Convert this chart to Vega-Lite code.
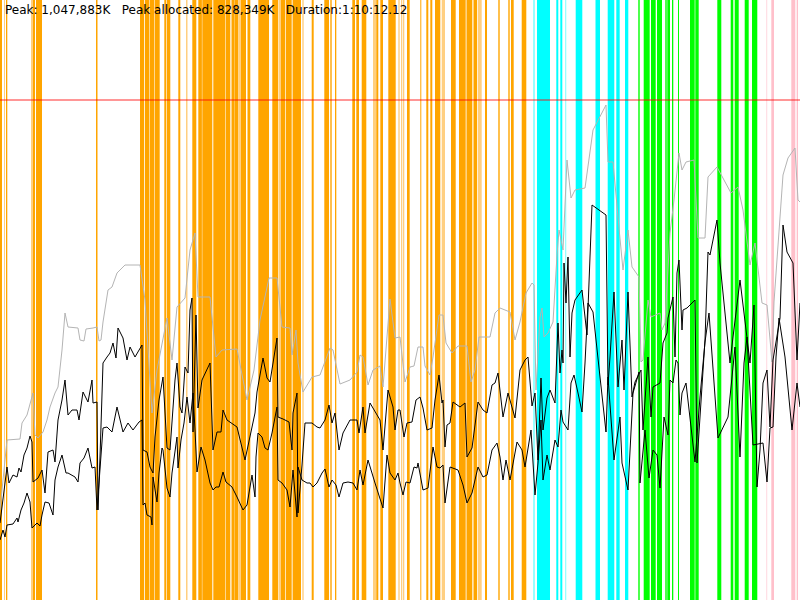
{
  "$schema": "https://vega.github.io/schema/vega-lite/v6.json",
  "width": 800,
  "height": 600,
  "autosize": {"type": "none"},
  "padding": 0,
  "background": "white",
  "config": {"view": {"stroke": null}},
  "title": {
    "text": "Peak: 1,047,883K\u00a0\u00a0\u00a0Peak allocated: 828,349K\u00a0\u00a0\u00a0Duration:1:10:12.12",
    "anchor": "start",
    "frame": "group",
    "offset": -17,
    "dx": 5,
    "font": "DejaVu Sans",
    "fontSize": 12,
    "fontWeight": "normal",
    "color": "#000000"
  },
  "datasets": {
    "bands": [
      {"start": 0, "end": 2, "kind": "o"},
      {"start": 4, "end": 5, "kind": "lo"},
      {"start": 6, "end": 7.3, "kind": "o"},
      {"start": 31, "end": 33, "kind": "lo"},
      {"start": 33, "end": 35, "kind": "o"},
      {"start": 36, "end": 42, "kind": "o"},
      {"start": 96, "end": 97.5, "kind": "o"},
      {"start": 140, "end": 144.2, "kind": "o"},
      {"start": 145, "end": 149.2, "kind": "o"},
      {"start": 149.7, "end": 154.2, "kind": "o"},
      {"start": 154.7, "end": 159.7, "kind": "o"},
      {"start": 164.3, "end": 166.2, "kind": "o"},
      {"start": 166.8, "end": 170.3, "kind": "o"},
      {"start": 178.3, "end": 180.3, "kind": "o"},
      {"start": 186, "end": 187.5, "kind": "lo"},
      {"start": 192.3, "end": 196.3, "kind": "o"},
      {"start": 198.3, "end": 201.9, "kind": "o"},
      {"start": 202.3, "end": 212.3, "kind": "o"},
      {"start": 213.3, "end": 225.2, "kind": "o"},
      {"start": 225.7, "end": 230.3, "kind": "o"},
      {"start": 231.5, "end": 234, "kind": "o"},
      {"start": 234.3, "end": 238.3, "kind": "o"},
      {"start": 238.3, "end": 241, "kind": "lo"},
      {"start": 241, "end": 246, "kind": "o"},
      {"start": 247.5, "end": 250.3, "kind": "o"},
      {"start": 258.3, "end": 269, "kind": "o"},
      {"start": 272.3, "end": 278.3, "kind": "o"},
      {"start": 279, "end": 281, "kind": "lo"},
      {"start": 281, "end": 285, "kind": "o"},
      {"start": 285.7, "end": 291.7, "kind": "o"},
      {"start": 292.6, "end": 301, "kind": "o"},
      {"start": 302.3, "end": 303.7, "kind": "lo"},
      {"start": 311.7, "end": 313.7, "kind": "o"},
      {"start": 324.3, "end": 329, "kind": "o"},
      {"start": 330.3, "end": 331.7, "kind": "o"},
      {"start": 335, "end": 336.3, "kind": "o"},
      {"start": 352.3, "end": 355, "kind": "o"},
      {"start": 356.3, "end": 359, "kind": "o"},
      {"start": 361.7, "end": 366.3, "kind": "o"},
      {"start": 373, "end": 376.3, "kind": "lo"},
      {"start": 376.3, "end": 378.3, "kind": "o"},
      {"start": 380.3, "end": 383, "kind": "o"},
      {"start": 388.3, "end": 395.7, "kind": "o"},
      {"start": 398.3, "end": 399.7, "kind": "lo"},
      {"start": 401, "end": 402.3, "kind": "lo"},
      {"start": 403, "end": 404.3, "kind": "lo"},
      {"start": 407, "end": 409.7, "kind": "o"},
      {"start": 420.3, "end": 421.3, "kind": "o"},
      {"start": 426.3, "end": 428.3, "kind": "o"},
      {"start": 430.3, "end": 432.3, "kind": "o"},
      {"start": 435, "end": 440.3, "kind": "o"},
      {"start": 441.7, "end": 445, "kind": "lo"},
      {"start": 451, "end": 455.7, "kind": "o"},
      {"start": 459, "end": 465.7, "kind": "o"},
      {"start": 466.5, "end": 472.3, "kind": "o"},
      {"start": 473.5, "end": 477, "kind": "o"},
      {"start": 477.7, "end": 481.7, "kind": "lo"},
      {"start": 485, "end": 487, "kind": "o"},
      {"start": 498.3, "end": 499.7, "kind": "o"},
      {"start": 508.3, "end": 509.7, "kind": "o"},
      {"start": 511, "end": 513.7, "kind": "o"},
      {"start": 521.7, "end": 526.3, "kind": "o"},
      {"start": 533, "end": 535, "kind": "lc"},
      {"start": 537, "end": 550, "kind": "c"},
      {"start": 556.3, "end": 558.3, "kind": "c"},
      {"start": 560.3, "end": 562.3, "kind": "c"},
      {"start": 565, "end": 566.3, "kind": "lc"},
      {"start": 575.7, "end": 582.3, "kind": "c"},
      {"start": 595.5, "end": 600, "kind": "c"},
      {"start": 607.7, "end": 614.3, "kind": "c"},
      {"start": 616.3, "end": 619.7, "kind": "c"},
      {"start": 625, "end": 628.3, "kind": "c"},
      {"start": 638.3, "end": 639.7, "kind": "g"},
      {"start": 643.7, "end": 649.7, "kind": "g"},
      {"start": 651, "end": 655.7, "kind": "g"},
      {"start": 657, "end": 662, "kind": "g"},
      {"start": 665.3, "end": 666.7, "kind": "g"},
      {"start": 667.3, "end": 670, "kind": "g"},
      {"start": 672, "end": 673.3, "kind": "g"},
      {"start": 678, "end": 679, "kind": "g"},
      {"start": 690, "end": 694.7, "kind": "g"},
      {"start": 695.3, "end": 698.7, "kind": "g"},
      {"start": 717.3, "end": 721.3, "kind": "g"},
      {"start": 730.7, "end": 733.3, "kind": "g"},
      {"start": 734.7, "end": 738.7, "kind": "g"},
      {"start": 744.7, "end": 748.7, "kind": "g"},
      {"start": 752, "end": 757.3, "kind": "g"},
      {"start": 766, "end": 767.3, "kind": "lp"},
      {"start": 771.3, "end": 774, "kind": "p"},
      {"start": 791.3, "end": 795.3, "kind": "p"},
      {"start": 796.7, "end": 798, "kind": "p"}
    ],
    "limit": [{"v": 500}],
    "mem": [
      {"s": "gray", "t": 0, "v": 90}, {"s": "gray", "t": 7, "v": 160}, {"s": "gray", "t": 20, "v": 161}, {"s": "gray", "t": 22, "v": 177},
      {"s": "gray", "t": 27, "v": 185}, {"s": "gray", "t": 33, "v": 207}, {"s": "gray", "t": 35, "v": 165}, {"s": "gray", "t": 38, "v": 162},
      {"s": "gray", "t": 43, "v": 168}, {"s": "gray", "t": 47, "v": 180}, {"s": "gray", "t": 50, "v": 193}, {"s": "gray", "t": 55, "v": 207},
      {"s": "gray", "t": 58, "v": 213}, {"s": "gray", "t": 62, "v": 250}, {"s": "gray", "t": 65, "v": 287}, {"s": "gray", "t": 68, "v": 273},
      {"s": "gray", "t": 78, "v": 272}, {"s": "gray", "t": 80, "v": 260}, {"s": "gray", "t": 84, "v": 259}, {"s": "gray", "t": 86, "v": 271},
      {"s": "gray", "t": 93, "v": 272}, {"s": "gray", "t": 97, "v": 273}, {"s": "gray", "t": 99, "v": 259}, {"s": "gray", "t": 101, "v": 260},
      {"s": "gray", "t": 103, "v": 278}, {"s": "gray", "t": 108, "v": 310}, {"s": "gray", "t": 112, "v": 313}, {"s": "gray", "t": 117, "v": 327},
      {"s": "gray", "t": 125, "v": 335}, {"s": "gray", "t": 140, "v": 335}, {"s": "gray", "t": 145, "v": 300}, {"s": "gray", "t": 152, "v": 187},
      {"s": "gray", "t": 157, "v": 230}, {"s": "gray", "t": 167, "v": 282}, {"s": "gray", "t": 172, "v": 240}, {"s": "gray", "t": 177, "v": 293},
      {"s": "gray", "t": 185, "v": 302}, {"s": "gray", "t": 190, "v": 350}, {"s": "gray", "t": 195, "v": 367}, {"s": "gray", "t": 198, "v": 303},
      {"s": "gray", "t": 210, "v": 303}, {"s": "gray", "t": 216, "v": 243}, {"s": "gray", "t": 222, "v": 250}, {"s": "gray", "t": 237, "v": 251},
      {"s": "gray", "t": 247, "v": 200}, {"s": "gray", "t": 254, "v": 230}, {"s": "gray", "t": 260, "v": 280}, {"s": "gray", "t": 269, "v": 322},
      {"s": "gray", "t": 277, "v": 322}, {"s": "gray", "t": 282, "v": 273}, {"s": "gray", "t": 290, "v": 272}, {"s": "gray", "t": 292, "v": 245},
      {"s": "gray", "t": 296, "v": 270}, {"s": "gray", "t": 298, "v": 237}, {"s": "gray", "t": 303, "v": 208}, {"s": "gray", "t": 312, "v": 223},
      {"s": "gray", "t": 320, "v": 225}, {"s": "gray", "t": 330, "v": 252}, {"s": "gray", "t": 333, "v": 250}, {"s": "gray", "t": 340, "v": 216},
      {"s": "gray", "t": 350, "v": 220}, {"s": "gray", "t": 357, "v": 228}, {"s": "gray", "t": 360, "v": 245}, {"s": "gray", "t": 363, "v": 243},
      {"s": "gray", "t": 368, "v": 215}, {"s": "gray", "t": 373, "v": 230}, {"s": "gray", "t": 380, "v": 234}, {"s": "gray", "t": 383, "v": 213},
      {"s": "gray", "t": 390, "v": 301}, {"s": "gray", "t": 395, "v": 262}, {"s": "gray", "t": 400, "v": 263}, {"s": "gray", "t": 405, "v": 218},
      {"s": "gray", "t": 410, "v": 233}, {"s": "gray", "t": 414, "v": 234}, {"s": "gray", "t": 418, "v": 253}, {"s": "gray", "t": 423, "v": 253},
      {"s": "gray", "t": 425, "v": 234}, {"s": "gray", "t": 430, "v": 225}, {"s": "gray", "t": 433, "v": 243}, {"s": "gray", "t": 439, "v": 285},
      {"s": "gray", "t": 443, "v": 285}, {"s": "gray", "t": 446, "v": 257}, {"s": "gray", "t": 452, "v": 247}, {"s": "gray", "t": 458, "v": 254},
      {"s": "gray", "t": 467, "v": 254}, {"s": "gray", "t": 471, "v": 218}, {"s": "gray", "t": 475, "v": 230}, {"s": "gray", "t": 479, "v": 263},
      {"s": "gray", "t": 490, "v": 263}, {"s": "gray", "t": 495, "v": 287}, {"s": "gray", "t": 500, "v": 292}, {"s": "gray", "t": 505, "v": 290},
      {"s": "gray", "t": 510, "v": 288}, {"s": "gray", "t": 515, "v": 260}, {"s": "gray", "t": 520, "v": 278}, {"s": "gray", "t": 526, "v": 307},
      {"s": "gray", "t": 532, "v": 317}, {"s": "gray", "t": 534, "v": 315}, {"s": "gray", "t": 536, "v": 210}, {"s": "gray", "t": 540, "v": 283},
      {"s": "gray", "t": 542, "v": 292}, {"s": "gray", "t": 544, "v": 263}, {"s": "gray", "t": 548, "v": 267}, {"s": "gray", "t": 553, "v": 278},
      {"s": "gray", "t": 557, "v": 345}, {"s": "gray", "t": 559, "v": 370}, {"s": "gray", "t": 563, "v": 350}, {"s": "gray", "t": 567, "v": 440},
      {"s": "gray", "t": 571, "v": 402}, {"s": "gray", "t": 575, "v": 410}, {"s": "gray", "t": 585, "v": 412}, {"s": "gray", "t": 593, "v": 470},
      {"s": "gray", "t": 606, "v": 495}, {"s": "gray", "t": 608, "v": 438}, {"s": "gray", "t": 613, "v": 438}, {"s": "gray", "t": 619, "v": 372},
      {"s": "gray", "t": 623, "v": 330}, {"s": "gray", "t": 628, "v": 370}, {"s": "gray", "t": 632, "v": 333}, {"s": "gray", "t": 639, "v": 323},
      {"s": "gray", "t": 641, "v": 238}, {"s": "gray", "t": 643, "v": 240}, {"s": "gray", "t": 648, "v": 300}, {"s": "gray", "t": 651, "v": 283},
      {"s": "gray", "t": 660, "v": 287}, {"s": "gray", "t": 662, "v": 270}, {"s": "gray", "t": 665, "v": 277}, {"s": "gray", "t": 670, "v": 367},
      {"s": "gray", "t": 674, "v": 400}, {"s": "gray", "t": 679, "v": 447}, {"s": "gray", "t": 682, "v": 430}, {"s": "gray", "t": 686, "v": 438},
      {"s": "gray", "t": 694, "v": 440}, {"s": "gray", "t": 698, "v": 362}, {"s": "gray", "t": 705, "v": 362}, {"s": "gray", "t": 708, "v": 423},
      {"s": "gray", "t": 717, "v": 433}, {"s": "gray", "t": 724, "v": 420}, {"s": "gray", "t": 731, "v": 407}, {"s": "gray", "t": 738, "v": 413},
      {"s": "gray", "t": 743, "v": 390}, {"s": "gray", "t": 750, "v": 335}, {"s": "gray", "t": 755, "v": 357}, {"s": "gray", "t": 762, "v": 297},
      {"s": "gray", "t": 767, "v": 295}, {"s": "gray", "t": 772, "v": 238}, {"s": "gray", "t": 774, "v": 298}, {"s": "gray", "t": 783, "v": 425},
      {"s": "gray", "t": 788, "v": 442}, {"s": "gray", "t": 795, "v": 452}, {"s": "gray", "t": 798, "v": 400}, {"s": "gray", "t": 800, "v": 398},

      {"s": "a", "t": 0, "v": 77}, {"s": "a", "t": 7, "v": 133}, {"s": "a", "t": 9, "v": 117}, {"s": "a", "t": 13, "v": 125},
      {"s": "a", "t": 17, "v": 123}, {"s": "a", "t": 19, "v": 132}, {"s": "a", "t": 21, "v": 128}, {"s": "a", "t": 24, "v": 145},
      {"s": "a", "t": 27, "v": 152}, {"s": "a", "t": 30, "v": 164}, {"s": "a", "t": 32, "v": 158}, {"s": "a", "t": 33, "v": 118},
      {"s": "a", "t": 38, "v": 122}, {"s": "a", "t": 42, "v": 130}, {"s": "a", "t": 45, "v": 107}, {"s": "a", "t": 48, "v": 148},
      {"s": "a", "t": 53, "v": 150}, {"s": "a", "t": 55, "v": 138}, {"s": "a", "t": 58, "v": 180}, {"s": "a", "t": 62, "v": 200},
      {"s": "a", "t": 65, "v": 220}, {"s": "a", "t": 68, "v": 185}, {"s": "a", "t": 72, "v": 190}, {"s": "a", "t": 77, "v": 190},
      {"s": "a", "t": 79, "v": 180}, {"s": "a", "t": 83, "v": 208}, {"s": "a", "t": 88, "v": 198}, {"s": "a", "t": 92, "v": 220},
      {"s": "a", "t": 93, "v": 197}, {"s": "a", "t": 97, "v": 198}, {"s": "a", "t": 98, "v": 90}, {"s": "a", "t": 100, "v": 143},
      {"s": "a", "t": 103, "v": 237}, {"s": "a", "t": 107, "v": 243}, {"s": "a", "t": 110, "v": 247}, {"s": "a", "t": 113, "v": 257},
      {"s": "a", "t": 116, "v": 242}, {"s": "a", "t": 118, "v": 272}, {"s": "a", "t": 123, "v": 262}, {"s": "a", "t": 127, "v": 240},
      {"s": "a", "t": 130, "v": 253}, {"s": "a", "t": 135, "v": 243}, {"s": "a", "t": 142, "v": 255}, {"s": "a", "t": 143, "v": 150},
      {"s": "a", "t": 147, "v": 148}, {"s": "a", "t": 150, "v": 133}, {"s": "a", "t": 153, "v": 127}, {"s": "a", "t": 155, "v": 163},
      {"s": "a", "t": 159, "v": 200}, {"s": "a", "t": 163, "v": 223}, {"s": "a", "t": 167, "v": 152}, {"s": "a", "t": 170, "v": 150},
      {"s": "a", "t": 175, "v": 220}, {"s": "a", "t": 177, "v": 237}, {"s": "a", "t": 180, "v": 193}, {"s": "a", "t": 182, "v": 187},
      {"s": "a", "t": 185, "v": 233}, {"s": "a", "t": 188, "v": 227}, {"s": "a", "t": 190, "v": 290}, {"s": "a", "t": 192, "v": 302},
      {"s": "a", "t": 193, "v": 168}, {"s": "a", "t": 196, "v": 285}, {"s": "a", "t": 198, "v": 192}, {"s": "a", "t": 202, "v": 220},
      {"s": "a", "t": 210, "v": 237}, {"s": "a", "t": 213, "v": 150}, {"s": "a", "t": 217, "v": 168}, {"s": "a", "t": 221, "v": 168},
      {"s": "a", "t": 223, "v": 190}, {"s": "a", "t": 227, "v": 180}, {"s": "a", "t": 237, "v": 173}, {"s": "a", "t": 245, "v": 140},
      {"s": "a", "t": 255, "v": 187}, {"s": "a", "t": 257, "v": 208}, {"s": "a", "t": 263, "v": 242}, {"s": "a", "t": 267, "v": 222},
      {"s": "a", "t": 270, "v": 218}, {"s": "a", "t": 277, "v": 262}, {"s": "a", "t": 278, "v": 183}, {"s": "a", "t": 283, "v": 181},
      {"s": "a", "t": 289, "v": 178}, {"s": "a", "t": 292, "v": 150}, {"s": "a", "t": 293, "v": 187}, {"s": "a", "t": 297, "v": 207},
      {"s": "a", "t": 298, "v": 87}, {"s": "a", "t": 302, "v": 135}, {"s": "a", "t": 305, "v": 177}, {"s": "a", "t": 312, "v": 177},
      {"s": "a", "t": 317, "v": 173}, {"s": "a", "t": 320, "v": 172}, {"s": "a", "t": 325, "v": 180}, {"s": "a", "t": 329, "v": 195},
      {"s": "a", "t": 332, "v": 177}, {"s": "a", "t": 335, "v": 187}, {"s": "a", "t": 339, "v": 150}, {"s": "a", "t": 343, "v": 167},
      {"s": "a", "t": 350, "v": 180}, {"s": "a", "t": 357, "v": 180}, {"s": "a", "t": 359, "v": 167}, {"s": "a", "t": 363, "v": 193},
      {"s": "a", "t": 365, "v": 167}, {"s": "a", "t": 370, "v": 197}, {"s": "a", "t": 380, "v": 180}, {"s": "a", "t": 383, "v": 150},
      {"s": "a", "t": 388, "v": 210}, {"s": "a", "t": 393, "v": 193}, {"s": "a", "t": 395, "v": 170}, {"s": "a", "t": 398, "v": 190},
      {"s": "a", "t": 400, "v": 190}, {"s": "a", "t": 404, "v": 163}, {"s": "a", "t": 407, "v": 177}, {"s": "a", "t": 412, "v": 178},
      {"s": "a", "t": 416, "v": 200}, {"s": "a", "t": 420, "v": 203}, {"s": "a", "t": 423, "v": 192}, {"s": "a", "t": 427, "v": 170},
      {"s": "a", "t": 432, "v": 172}, {"s": "a", "t": 435, "v": 200}, {"s": "a", "t": 439, "v": 225}, {"s": "a", "t": 442, "v": 197},
      {"s": "a", "t": 443, "v": 200}, {"s": "a", "t": 445, "v": 153}, {"s": "a", "t": 447, "v": 175}, {"s": "a", "t": 450, "v": 177},
      {"s": "a", "t": 453, "v": 198}, {"s": "a", "t": 460, "v": 193}, {"s": "a", "t": 465, "v": 197}, {"s": "a", "t": 467, "v": 143},
      {"s": "a", "t": 472, "v": 152}, {"s": "a", "t": 478, "v": 198}, {"s": "a", "t": 483, "v": 190}, {"s": "a", "t": 487, "v": 187},
      {"s": "a", "t": 492, "v": 215}, {"s": "a", "t": 495, "v": 217}, {"s": "a", "t": 498, "v": 227}, {"s": "a", "t": 503, "v": 183},
      {"s": "a", "t": 508, "v": 207}, {"s": "a", "t": 515, "v": 182}, {"s": "a", "t": 520, "v": 230}, {"s": "a", "t": 525, "v": 240},
      {"s": "a", "t": 528, "v": 243}, {"s": "a", "t": 532, "v": 194}, {"s": "a", "t": 535, "v": 207}, {"s": "a", "t": 538, "v": 140},
      {"s": "a", "t": 541, "v": 222}, {"s": "a", "t": 543, "v": 170}, {"s": "a", "t": 547, "v": 202}, {"s": "a", "t": 550, "v": 210},
      {"s": "a", "t": 555, "v": 197}, {"s": "a", "t": 558, "v": 277}, {"s": "a", "t": 560, "v": 227}, {"s": "a", "t": 562, "v": 250},
      {"s": "a", "t": 563, "v": 237}, {"s": "a", "t": 564, "v": 337}, {"s": "a", "t": 566, "v": 297}, {"s": "a", "t": 568, "v": 343},
      {"s": "a", "t": 570, "v": 243}, {"s": "a", "t": 572, "v": 287}, {"s": "a", "t": 575, "v": 300}, {"s": "a", "t": 582, "v": 310},
      {"s": "a", "t": 587, "v": 265}, {"s": "a", "t": 592, "v": 395}, {"s": "a", "t": 606, "v": 385}, {"s": "a", "t": 608, "v": 215},
      {"s": "a", "t": 610, "v": 243}, {"s": "a", "t": 614, "v": 308}, {"s": "a", "t": 618, "v": 213}, {"s": "a", "t": 622, "v": 260},
      {"s": "a", "t": 624, "v": 210}, {"s": "a", "t": 628, "v": 308}, {"s": "a", "t": 632, "v": 203}, {"s": "a", "t": 635, "v": 218},
      {"s": "a", "t": 640, "v": 228}, {"s": "a", "t": 641, "v": 230}, {"s": "a", "t": 643, "v": 170}, {"s": "a", "t": 648, "v": 243},
      {"s": "a", "t": 651, "v": 183}, {"s": "a", "t": 653, "v": 213}, {"s": "a", "t": 660, "v": 217}, {"s": "a", "t": 663, "v": 257},
      {"s": "a", "t": 667, "v": 267}, {"s": "a", "t": 668, "v": 282}, {"s": "a", "t": 673, "v": 303}, {"s": "a", "t": 675, "v": 243},
      {"s": "a", "t": 677, "v": 327}, {"s": "a", "t": 679, "v": 340}, {"s": "a", "t": 682, "v": 270}, {"s": "a", "t": 683, "v": 290},
      {"s": "a", "t": 687, "v": 292}, {"s": "a", "t": 695, "v": 300}, {"s": "a", "t": 697, "v": 137}, {"s": "a", "t": 705, "v": 260},
      {"s": "a", "t": 708, "v": 348}, {"s": "a", "t": 710, "v": 345}, {"s": "a", "t": 717, "v": 380}, {"s": "a", "t": 720, "v": 337},
      {"s": "a", "t": 730, "v": 237}, {"s": "a", "t": 733, "v": 263}, {"s": "a", "t": 740, "v": 320}, {"s": "a", "t": 747, "v": 262},
      {"s": "a", "t": 750, "v": 237}, {"s": "a", "t": 754, "v": 295}, {"s": "a", "t": 757, "v": 113}, {"s": "a", "t": 760, "v": 150},
      {"s": "a", "t": 763, "v": 217}, {"s": "a", "t": 767, "v": 230}, {"s": "a", "t": 770, "v": 173}, {"s": "a", "t": 773, "v": 240},
      {"s": "a", "t": 780, "v": 282}, {"s": "a", "t": 783, "v": 375}, {"s": "a", "t": 787, "v": 348}, {"s": "a", "t": 793, "v": 337},
      {"s": "a", "t": 797, "v": 240}, {"s": "a", "t": 800, "v": 297},

      {"s": "b", "t": 0, "v": 60}, {"s": "b", "t": 3, "v": 70}, {"s": "b", "t": 5, "v": 63}, {"s": "b", "t": 7, "v": 75},
      {"s": "b", "t": 13, "v": 76}, {"s": "b", "t": 17, "v": 82}, {"s": "b", "t": 18, "v": 78}, {"s": "b", "t": 21, "v": 90},
      {"s": "b", "t": 24, "v": 97}, {"s": "b", "t": 27, "v": 107}, {"s": "b", "t": 30, "v": 98}, {"s": "b", "t": 32, "v": 72},
      {"s": "b", "t": 37, "v": 77}, {"s": "b", "t": 40, "v": 74}, {"s": "b", "t": 42, "v": 85}, {"s": "b", "t": 45, "v": 98},
      {"s": "b", "t": 49, "v": 97}, {"s": "b", "t": 53, "v": 85}, {"s": "b", "t": 55, "v": 120}, {"s": "b", "t": 58, "v": 133},
      {"s": "b", "t": 62, "v": 145}, {"s": "b", "t": 66, "v": 127}, {"s": "b", "t": 68, "v": 127}, {"s": "b", "t": 75, "v": 123},
      {"s": "b", "t": 78, "v": 118}, {"s": "b", "t": 80, "v": 137}, {"s": "b", "t": 84, "v": 142}, {"s": "b", "t": 88, "v": 152},
      {"s": "b", "t": 92, "v": 132}, {"s": "b", "t": 95, "v": 133}, {"s": "b", "t": 97, "v": 90}, {"s": "b", "t": 103, "v": 172},
      {"s": "b", "t": 107, "v": 173}, {"s": "b", "t": 112, "v": 168}, {"s": "b", "t": 117, "v": 193}, {"s": "b", "t": 123, "v": 168},
      {"s": "b", "t": 128, "v": 177}, {"s": "b", "t": 133, "v": 170}, {"s": "b", "t": 139, "v": 178}, {"s": "b", "t": 142, "v": 180},
      {"s": "b", "t": 143, "v": 95}, {"s": "b", "t": 145, "v": 97}, {"s": "b", "t": 147, "v": 85}, {"s": "b", "t": 151, "v": 83},
      {"s": "b", "t": 152, "v": 75}, {"s": "b", "t": 153, "v": 123}, {"s": "b", "t": 157, "v": 98}, {"s": "b", "t": 159, "v": 127},
      {"s": "b", "t": 162, "v": 152}, {"s": "b", "t": 163, "v": 150}, {"s": "b", "t": 167, "v": 112}, {"s": "b", "t": 170, "v": 103},
      {"s": "b", "t": 172, "v": 127}, {"s": "b", "t": 177, "v": 163}, {"s": "b", "t": 178, "v": 132}, {"s": "b", "t": 181, "v": 160},
      {"s": "b", "t": 184, "v": 177}, {"s": "b", "t": 187, "v": 203}, {"s": "b", "t": 190, "v": 177}, {"s": "b", "t": 193, "v": 207},
      {"s": "b", "t": 195, "v": 170}, {"s": "b", "t": 197, "v": 128}, {"s": "b", "t": 201, "v": 153}, {"s": "b", "t": 205, "v": 140},
      {"s": "b", "t": 210, "v": 117}, {"s": "b", "t": 213, "v": 110}, {"s": "b", "t": 216, "v": 113}, {"s": "b", "t": 219, "v": 113},
      {"s": "b", "t": 223, "v": 128}, {"s": "b", "t": 226, "v": 118}, {"s": "b", "t": 232, "v": 113}, {"s": "b", "t": 237, "v": 103},
      {"s": "b", "t": 243, "v": 90}, {"s": "b", "t": 247, "v": 95}, {"s": "b", "t": 252, "v": 125}, {"s": "b", "t": 255, "v": 103},
      {"s": "b", "t": 256, "v": 143}, {"s": "b", "t": 258, "v": 167}, {"s": "b", "t": 262, "v": 163}, {"s": "b", "t": 265, "v": 152},
      {"s": "b", "t": 268, "v": 150}, {"s": "b", "t": 272, "v": 167}, {"s": "b", "t": 277, "v": 193}, {"s": "b", "t": 278, "v": 120},
      {"s": "b", "t": 282, "v": 117}, {"s": "b", "t": 287, "v": 110}, {"s": "b", "t": 290, "v": 93}, {"s": "b", "t": 293, "v": 130},
      {"s": "b", "t": 297, "v": 83}, {"s": "b", "t": 298, "v": 133}, {"s": "b", "t": 302, "v": 120}, {"s": "b", "t": 307, "v": 117},
      {"s": "b", "t": 310, "v": 117}, {"s": "b", "t": 313, "v": 113}, {"s": "b", "t": 317, "v": 117}, {"s": "b", "t": 322, "v": 127},
      {"s": "b", "t": 325, "v": 131}, {"s": "b", "t": 329, "v": 113}, {"s": "b", "t": 332, "v": 120}, {"s": "b", "t": 336, "v": 115},
      {"s": "b", "t": 339, "v": 103}, {"s": "b", "t": 343, "v": 117}, {"s": "b", "t": 348, "v": 118}, {"s": "b", "t": 353, "v": 117},
      {"s": "b", "t": 357, "v": 110}, {"s": "b", "t": 360, "v": 130}, {"s": "b", "t": 363, "v": 115}, {"s": "b", "t": 368, "v": 140},
      {"s": "b", "t": 375, "v": 117}, {"s": "b", "t": 383, "v": 92}, {"s": "b", "t": 387, "v": 145}, {"s": "b", "t": 390, "v": 127},
      {"s": "b", "t": 395, "v": 120}, {"s": "b", "t": 398, "v": 127}, {"s": "b", "t": 400, "v": 117}, {"s": "b", "t": 403, "v": 105},
      {"s": "b", "t": 406, "v": 118}, {"s": "b", "t": 410, "v": 117}, {"s": "b", "t": 414, "v": 133}, {"s": "b", "t": 417, "v": 132},
      {"s": "b", "t": 418, "v": 137}, {"s": "b", "t": 423, "v": 110}, {"s": "b", "t": 428, "v": 112}, {"s": "b", "t": 433, "v": 153},
      {"s": "b", "t": 437, "v": 133}, {"s": "b", "t": 440, "v": 132}, {"s": "b", "t": 443, "v": 135}, {"s": "b", "t": 445, "v": 97},
      {"s": "b", "t": 450, "v": 133}, {"s": "b", "t": 458, "v": 130}, {"s": "b", "t": 463, "v": 115}, {"s": "b", "t": 467, "v": 97},
      {"s": "b", "t": 472, "v": 107}, {"s": "b", "t": 478, "v": 133}, {"s": "b", "t": 483, "v": 123}, {"s": "b", "t": 487, "v": 125},
      {"s": "b", "t": 492, "v": 150}, {"s": "b", "t": 497, "v": 157}, {"s": "b", "t": 500, "v": 143}, {"s": "b", "t": 503, "v": 120},
      {"s": "b", "t": 506, "v": 140}, {"s": "b", "t": 510, "v": 120}, {"s": "b", "t": 517, "v": 158}, {"s": "b", "t": 522, "v": 150},
      {"s": "b", "t": 525, "v": 133}, {"s": "b", "t": 531, "v": 170}, {"s": "b", "t": 535, "v": 105}, {"s": "b", "t": 538, "v": 137},
      {"s": "b", "t": 541, "v": 180}, {"s": "b", "t": 543, "v": 120}, {"s": "b", "t": 547, "v": 145}, {"s": "b", "t": 550, "v": 130},
      {"s": "b", "t": 555, "v": 160}, {"s": "b", "t": 558, "v": 153}, {"s": "b", "t": 561, "v": 190}, {"s": "b", "t": 563, "v": 178},
      {"s": "b", "t": 568, "v": 170}, {"s": "b", "t": 571, "v": 217}, {"s": "b", "t": 574, "v": 225}, {"s": "b", "t": 578, "v": 207},
      {"s": "b", "t": 582, "v": 188}, {"s": "b", "t": 585, "v": 237}, {"s": "b", "t": 588, "v": 297}, {"s": "b", "t": 593, "v": 288},
      {"s": "b", "t": 600, "v": 223}, {"s": "b", "t": 606, "v": 168}, {"s": "b", "t": 608, "v": 223}, {"s": "b", "t": 614, "v": 140},
      {"s": "b", "t": 620, "v": 183}, {"s": "b", "t": 622, "v": 137}, {"s": "b", "t": 628, "v": 110}, {"s": "b", "t": 633, "v": 207},
      {"s": "b", "t": 639, "v": 228}, {"s": "b", "t": 640, "v": 117}, {"s": "b", "t": 645, "v": 170}, {"s": "b", "t": 649, "v": 122},
      {"s": "b", "t": 653, "v": 150}, {"s": "b", "t": 657, "v": 145}, {"s": "b", "t": 660, "v": 112}, {"s": "b", "t": 664, "v": 183},
      {"s": "b", "t": 668, "v": 165}, {"s": "b", "t": 670, "v": 220}, {"s": "b", "t": 673, "v": 217}, {"s": "b", "t": 676, "v": 240},
      {"s": "b", "t": 678, "v": 237}, {"s": "b", "t": 680, "v": 185}, {"s": "b", "t": 682, "v": 207}, {"s": "b", "t": 686, "v": 217},
      {"s": "b", "t": 695, "v": 138}, {"s": "b", "t": 700, "v": 203}, {"s": "b", "t": 705, "v": 258}, {"s": "b", "t": 709, "v": 287},
      {"s": "b", "t": 718, "v": 162}, {"s": "b", "t": 728, "v": 183}, {"s": "b", "t": 735, "v": 253}, {"s": "b", "t": 740, "v": 143},
      {"s": "b", "t": 744, "v": 237}, {"s": "b", "t": 747, "v": 263}, {"s": "b", "t": 753, "v": 155}, {"s": "b", "t": 763, "v": 157},
      {"s": "b", "t": 767, "v": 118}, {"s": "b", "t": 770, "v": 172}, {"s": "b", "t": 773, "v": 173}, {"s": "b", "t": 776, "v": 243},
      {"s": "b", "t": 779, "v": 282}, {"s": "b", "t": 785, "v": 243}, {"s": "b", "t": 792, "v": 170}, {"s": "b", "t": 797, "v": 217},
      {"s": "b", "t": 800, "v": 193}
    ]
  },
  "layer": [
    {
      "data": {"name": "bands"},
      "mark": {"type": "rect"},
      "encoding": {
        "x": {"field": "start", "type": "quantitative", "scale": {"domain": [0, 800], "nice": false, "zero": false}, "axis": null},
        "x2": {"field": "end"},
        "color": {
          "field": "kind",
          "type": "nominal",
          "scale": {
            "domain": ["o", "lo", "c", "lc", "g", "p", "lp"],
            "range": ["#ffa500", "#ffcf80", "#00ffff", "#99ffff", "#00ff00", "#ffc0cb", "#ffe0e6"]
          },
          "legend": null
        }
      }
    },
    {
      "data": {"name": "limit"},
      "mark": {"type": "rule", "color": "#ff0000", "opacity": 0.55, "strokeWidth": 1.5},
      "encoding": {
        "y": {"field": "v", "type": "quantitative", "scale": {"domain": [0, 600], "nice": false}, "axis": null}
      }
    },
    {
      "data": {"name": "mem"},
      "mark": {"type": "line", "strokeWidth": 1},
      "encoding": {
        "x": {"field": "t", "type": "quantitative", "axis": null},
        "y": {"field": "v", "type": "quantitative", "axis": null},
        "detail": {"field": "s"},
        "color": {
          "field": "s",
          "type": "nominal",
          "scale": {"domain": ["gray", "a", "b"], "range": ["#b4b4b4", "#000000", "#000000"]},
          "legend": null
        }
      }
    }
  ],
  "resolve": {"scale": {"color": "independent"}}
}
